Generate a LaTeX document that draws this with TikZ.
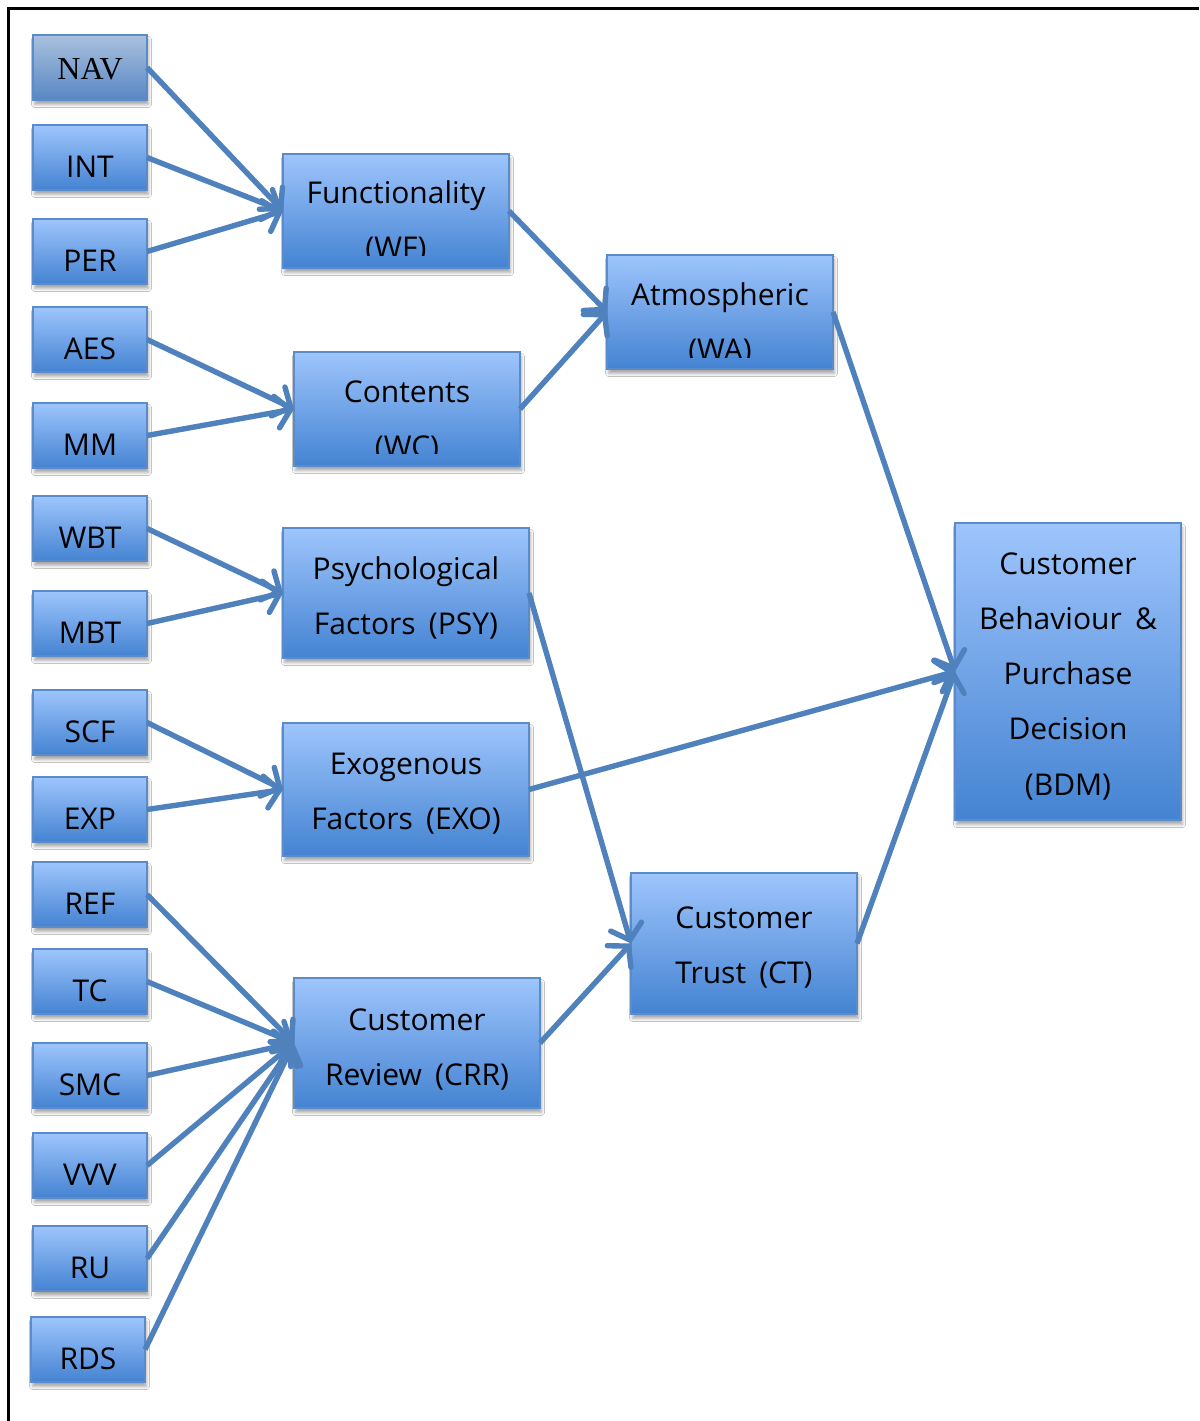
\documentclass[tikz,border=0pt]{standalone}
\usepackage{fontspec}
\setmainfont{Open Sans}[WordSpace=1.7]
\newfontfamily\navfont{Liberation Serif}
\usetikzlibrary{arrows.meta,shadows.blur}

\definecolor{boxtop}{HTML}{9EC5FC}
\definecolor{boxbot}{HTML}{4483D2}
\definecolor{navtop}{HTML}{A9C1DD}
\definecolor{navbot}{HTML}{5886C4}
\definecolor{boxedge}{HTML}{5B8BC9}
\definecolor{linkcol}{HTML}{4F81BD}

\tikzset{
  box/.style={draw=boxedge, line width=1.2pt, top color=boxtop, bottom color=boxbot,
    inner sep=0pt, outer sep=0pt,
    blur shadow={shadow xshift=1.5pt, shadow yshift=-4.5pt, shadow blur radius=3pt, shadow opacity=35}},
  leaf/.style={box, minimum width=114pt, minimum height=65pt},
  navleaf/.style={leaf, top color=navtop, bottom color=navbot},
  mid/.style={box, minimum width=226pt, minimum height=114pt},
  txt/.style={anchor=base, inner sep=0pt, font=\fontsize{30}{55.3}\selectfont},
  link/.style={draw=linkcol, line width=5.4pt, line join=round,
    -{Straight Barb[length=14pt,width=32pt,line cap=round]}}
}
\newcommand\lines[1]{\begin{tabular}[t]{@{}c@{}}#1\end{tabular}}

\begin{document}
\begin{tikzpicture}[x=1pt,y=-1pt]
\useasboundingbox (0,0) rectangle (1199,1421);
\fill[white] (0,0) rectangle (1199,1421);

% frame
\draw[line width=2.8pt] (8.5,1421) -- (8.5,8.5) -- (1199,8.5);

% indicator boxes
\node[navleaf] (nav) at (90,67.5) {};
\node[txt, font=\navfont\fontsize{32}{40}\selectfont] (nav-t) at (90,79) {NAV};
\foreach \nm/\lab/\top in {int/INT/125, per/PER/219, aes/AES/307, mm/MM/403,
    wbt/WBT/496, mbt/MBT/591, scf/SCF/690, exp/EXP/777, ref/REF/862,
    tc/TC/949, smc/SMC/1043, vvv/VVV/1133, ru/RU/1226}{
  \node[leaf] (\nm) at (90,\top+32.5) {};
  \node[txt] (\nm-t) at (90,\top+52) {\lab};
}
\node[leaf] (rds) at (88,1349.5) {};
\node[txt] (rds-t) at (88,1369) {RDS};

% construct boxes
\node[mid] (wf) at (396,211) {};
\begin{scope}
  \clip (283,154) rectangle (509,255);
  \node[txt] (wf-t) at (396,203) {\lines{Functionality\\(WF)}};
\end{scope}

\node[mid] (wc) at (407,409) {};
\begin{scope}
  \clip (294,352) rectangle (520,453);
  \node[txt] (wc-t) at (407,402) {\lines{Contents\\(WC)}};
\end{scope}

\node[mid] (wa) at (720,312) {};
\begin{scope}
  \clip (607,255) rectangle (833,357);
  \node[txt] (wa-t) at (720,305) {\lines{Atmospheric\\(WA)}};
\end{scope}

\node[box, minimum width=246pt, minimum height=130pt] (psy) at (406,593) {};
\node[txt] (psy-t) at (406,579) {\lines{Psychological\\Factors (PSY)}};

\node[box, minimum width=246pt, minimum height=133pt] (exo) at (406,789.5) {};
\node[txt] (exo-t) at (406,774) {\lines{Exogenous\\Factors (EXO)}};

\node[box, minimum width=246pt, minimum height=130pt] (crr) at (417,1043) {};
\node[txt] (crr-t) at (417,1030) {\lines{Customer\\Review (CRR)}};

\node[box, minimum width=226pt, minimum height=141pt] (ct) at (744,943.5) {};
\node[txt] (ct-t) at (744,928) {\lines{Customer\\Trust (CT)}};

\node[box, minimum width=226pt, minimum height=297pt] (bdm) at (1068,671.5) {};
\node[txt] (bdm-t) at (1068,574) {\lines{Customer\\Behaviour \&\\Purchase\\Decision\\(BDM)}};

% connectors
\foreach \s in {nav,int,per} \draw[link] (\s.east) -- (wf.west);
\foreach \s in {aes,mm} \draw[link] (\s.east) -- (wc.west);
\foreach \s in {wbt,mbt} \draw[link] (\s.east) -- (psy.west);
\foreach \s in {scf,exp} \draw[link] (\s.east) -- (exo.west);
\foreach \s in {ref,tc,smc,vvv,ru,rds} \draw[link] (\s.east) -- (crr.west);
\foreach \s in {wf,wc} \draw[link] (\s.east) -- (wa.west);
\foreach \s in {psy,crr} \draw[link] (\s.east) -- (ct.west);
\foreach \s in {wa,exo,ct} \draw[link] (\s.east) -- (bdm.west);
\end{tikzpicture}
\end{document}
